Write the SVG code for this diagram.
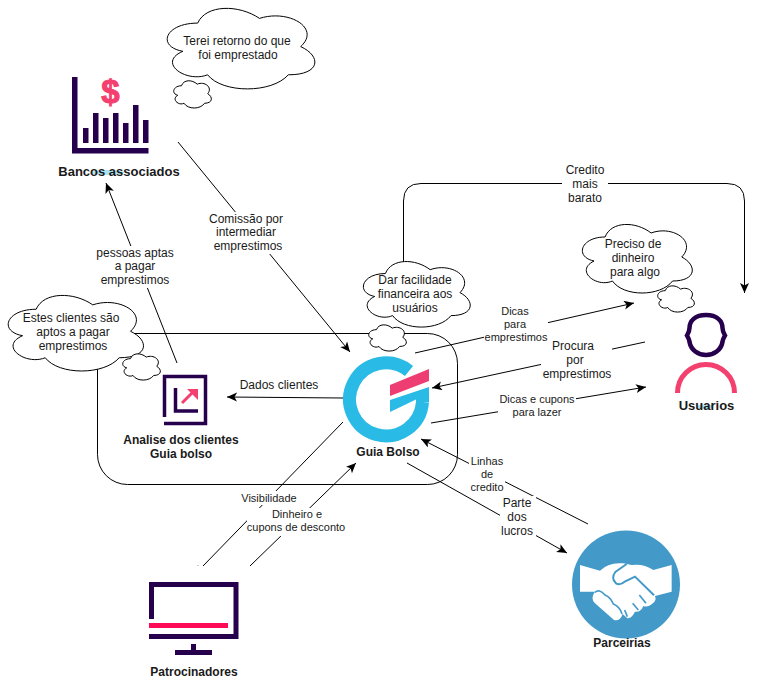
<svg xmlns="http://www.w3.org/2000/svg" width="760" height="682" viewBox="0 0 760 682">
<style>
text{font-family:"Liberation Sans",Arial,sans-serif;fill:#1a1a1a;text-anchor:middle}
.t12{font-size:12px}
.t11{font-size:11px}
.nl{font-size:12px;font-weight:bold}
.nl13{font-size:13px;font-weight:bold}
.c{fill:#fff;stroke:#000}
.ln{fill:none;stroke:#000;stroke-width:1;marker-end:url(#arr)}
.pl{fill:none;stroke:#000;stroke-width:1}
.bg{fill:#fff;stroke:none}
.dk{fill:#26004d}
.pk{fill:#f4406f}
</style>
<defs>
<marker id="arr" markerUnits="userSpaceOnUse" markerWidth="12" markerHeight="10" refX="10" refY="4.5" orient="auto"><path d="M0 0L10 4.5L0 9L2.5 4.5Z" fill="#000"/></marker>
<path id="cloud" vector-effect="non-scaling-stroke" stroke-width="1" d="M25 25C5 25 0 50 16 55C0 67 18 89 31 80C40 100 70 100 80 80C100 80 100 60 87.5 50C100 30 80 10 62.5 20C50 5 30 5 25 25Z"/>
</defs>

<g id="container"><rect x="97.500" y="333.500" width="360" height="151" rx="30" ry="30" fill="none" stroke="#000"/></g>

<g id="connectors">
<path class="ln" d="M178 142L350 352"/>
<path class="ln" d="M177 363L106 183"/>
<path class="ln" d="M403.500 263V201Q403.500 183.500 421 183.500H727Q744.500 183.500 744.500 201V293"/>
<path class="ln" d="M415 353L634 303"/>
<path class="ln" d="M645 342L432 388"/>
<path class="ln" d="M431 423L646 387"/>
<path class="ln" d="M343 398L227 397"/>
<path class="ln" d="M588 524L421 439"/>
<path class="ln" d="M407 463L567 553"/>
<path class="pl" d="M343 422L203 566"/>
<path class="ln" d="M250 566L356 463"/>
<rect x="197.500" y="565" width="1" height="1" fill="#999"/>
</g>

<g id="edge-labels">
<rect class="bg" x="541" y="339" width="71" height="42"/>
<rect class="bg" x="207" y="212" width="80" height="42"/>
<text class="t12" x="246" y="223">Comissão por</text><text class="t12" x="246" y="236">intermediar</text><text class="t12" x="248" y="250">emprestimos</text>
<rect class="bg" x="92" y="246" width="86" height="42"/>
<text class="t12" x="135" y="257">pessoas aptas</text><text class="t12" x="135" y="270">a pagar</text><text class="t12" x="135" y="284">emprestimos</text>
<rect class="bg" x="562" y="163" width="46" height="42"/>
<text class="t12" x="585" y="174">Credito</text><text class="t12" x="585" y="188">mais</text><text class="t12" x="585" y="202">barato</text>
<rect class="bg" x="484" y="305" width="64" height="40"/>
<text class="t11" x="515" y="315">Dicas</text><text class="t11" x="515" y="328">para</text><text class="t11" x="516" y="341">emprestimos</text>
<text class="t12" x="573" y="350">Procura</text><text class="t12" x="575" y="364">por</text><text class="t12" x="577" y="378">emprestimos</text>
<rect class="bg" x="498" y="392" width="78" height="28"/>
<text class="t11" x="537" y="403">Dicas e cupons</text><text class="t11" x="537" y="416">para lazer</text>
<rect class="bg" x="238" y="377" width="84" height="15"/>
<text class="t12" x="279" y="389">Dados clientes</text>
<rect class="bg" x="469" y="454" width="36" height="40"/>
<text class="t11" x="487" y="465">Linhas</text><text class="t11" x="487" y="478">de</text><text class="t11" x="487" y="491">credito</text>
<rect class="bg" x="500" y="496" width="36" height="42"/>
<text class="t12" x="517" y="507">Parte</text><text class="t12" x="517" y="521">dos</text><text class="t12" x="517" y="535">lucros</text>
<rect class="bg" x="240" y="491" width="58" height="14"/>
<text class="t11" x="269" y="502">Visibilidade</text>
<rect class="bg" x="247" y="508" width="100" height="28"/>
<text class="t11" x="297" y="518">Dinheiro e</text><text class="t11" x="296" y="531">cupons de desconto</text>
</g>

<g id="cloud-terei">
<use href="#cloud" class="c" transform="translate(156.500 -0.400) scale(1.648 0.94)"/>
<use href="#cloud" class="c" transform="translate(171 77.800) scale(0.42 0.318)"/>
<text class="t12" x="237" y="45">Terei retorno do que</text><text class="t12" x="238" y="59">foi emprestado</text>
</g>
<g id="cloud-estes">
<use href="#cloud" class="c" transform="translate(-1.600 287.200) scale(1.51 0.882)"/>
<use href="#cloud" class="c" transform="translate(120 351) scale(0.42 0.306)"/>
<text class="t12" x="71" y="322">Estes clientes são</text><text class="t12" x="73" y="336">aptos a pagar</text><text class="t12" x="73" y="350">emprestimos</text>
</g>
<g id="cloud-dar">
<use href="#cloud" class="c" transform="translate(355.600 254.400) scale(1.193 0.765)"/>
<use href="#cloud" class="c" transform="translate(366 322) scale(0.42 0.306)"/>
<text class="t12" x="415" y="284">Dar facilidade</text><text class="t12" x="415" y="298">financeira aos</text><text class="t12" x="415" y="312">usuários</text>
</g>
<g id="cloud-preciso">
<use href="#cloud" class="c" transform="translate(574.400 217) scale(1.227 0.8)"/>
<use href="#cloud" class="c" transform="translate(655 283) scale(0.41 0.306)"/>
<text class="t12" x="633" y="248">Preciso  de</text><text class="t12" x="633" y="262">dinheiro</text><text class="t12" x="635" y="276">para algo</text>
</g>

<g id="node-bancos">
<rect class="dk" x="72" y="77" width="5.500" height="76"/><rect class="dk" x="72" y="148" width="76.500" height="5.500"/>
<rect class="dk" x="83" y="128" width="5.500" height="15"/><rect class="dk" x="93" y="113" width="5.500" height="30"/><rect class="dk" x="103" y="118" width="5.500" height="25"/><rect class="dk" x="113" y="113" width="5.500" height="30"/><rect class="dk" x="123" y="123" width="5.500" height="20"/><rect class="dk" x="133" y="105" width="5.500" height="38"/><rect class="dk" x="143" y="120" width="5.500" height="23"/>
<text x="110.500" y="103" style="font-size:33px;font-weight:bold;fill:#f4406f;stroke:#f4406f;stroke-width:1">$</text>
<ellipse cx="108" cy="172.500" rx="16" ry="2.500" fill="#a8e4f5"/>
<text class="nl13" x="119" y="176">Bancos associados</text>
</g>

<g id="node-analise">
<path d="M164.500 417V376.500H205.500V423.500H164" fill="none" stroke="#26004d" stroke-width="3.500"/>
<path d="M175.500 388V411H198" fill="none" stroke="#26004d" stroke-width="3.500"/>
<path d="M182 403L192 393" stroke="#f4406f" stroke-width="3" fill="none"/><path class="pk" d="M187 389H198V400Z"/>
<text class="nl" x="181" y="444">Analise dos clientes</text><text class="nl" x="181" y="458">Guia bolso</text>
</g>

<g id="node-guia">
<path d="M409 371A36.500 36.500 0 1 0 422.500 402" fill="none" stroke="#29bbe6" stroke-width="13"/>
<path d="M390 400L429 387V402H416V399.500L390 412Z" fill="#29bbe6"/>
<path d="M390 385L429 369V381L390 396Z" fill="#ee3d72"/>
<text class="nl" x="388" y="456">Guia Bolso</text>
</g>

<g id="node-usuarios">
<path d="M706 315C717 315 722.500 321 722.500 328Q722.500 331 725 335.500Q722.500 340 722.500 342C721 350 714 355 706 355C698 355 691 350 689.500 342Q689.500 340 687 335.500Q689.500 331 689.500 328C689.500 321 695 315 706 315Z" fill="none" stroke="#26004d" stroke-width="4.500"/>
<path d="M677.500 393A28.500 28.500 0 0 1 734.500 393" fill="none" stroke="#f4406f" stroke-width="5"/>
<ellipse cx="705" cy="406.500" rx="8" ry="2" fill="#a8e4f5"/>
<text class="nl13" x="706.500" y="410">Usuarios</text>
</g>

<g id="node-patrocinadores">
<path d="M151.500 619V584.500H236V636.500H149" fill="none" stroke="#26004d" stroke-width="5"/>
<rect x="149" y="623" width="79" height="5" fill="#ff0a55"/>
<rect class="dk" x="175" y="650" width="37" height="5"/><rect class="dk" x="191" y="644" width="5" height="6"/>
<text class="nl" x="194" y="676">Patrocinadores</text>
</g>

<g id="node-parceirias">
<circle cx="626" cy="584.500" r="54" fill="#439ac9"/>
<g transform="translate(540 510) scale(0.3333)">
<path d="M120 165L180 182Q205 156 250 160L275 165Q310 160 340 180L395 165V245L345 258Q352 272 335 283Q322 293 310 288Q302 308 285 305Q275 325 262 325L248 312Q240 335 222 330L165 280Q150 265 165 245L120 245Z" fill="#fff"/>
<path d="M260 162L226 186Q212 204 228 220Q240 228 256 214L285 200L342 256" fill="none" stroke="#439ac9" stroke-width="6"/>
<path d="M318 280L298 255M295 300L278 280M262 320L254 300M165 247Q178 235 195 255Q212 262 220 282Q240 290 246 312" fill="none" stroke="#439ac9" stroke-width="5"/>
</g>
<text class="nl" x="622" y="647">Parceirias</text>
</g>
</svg>
